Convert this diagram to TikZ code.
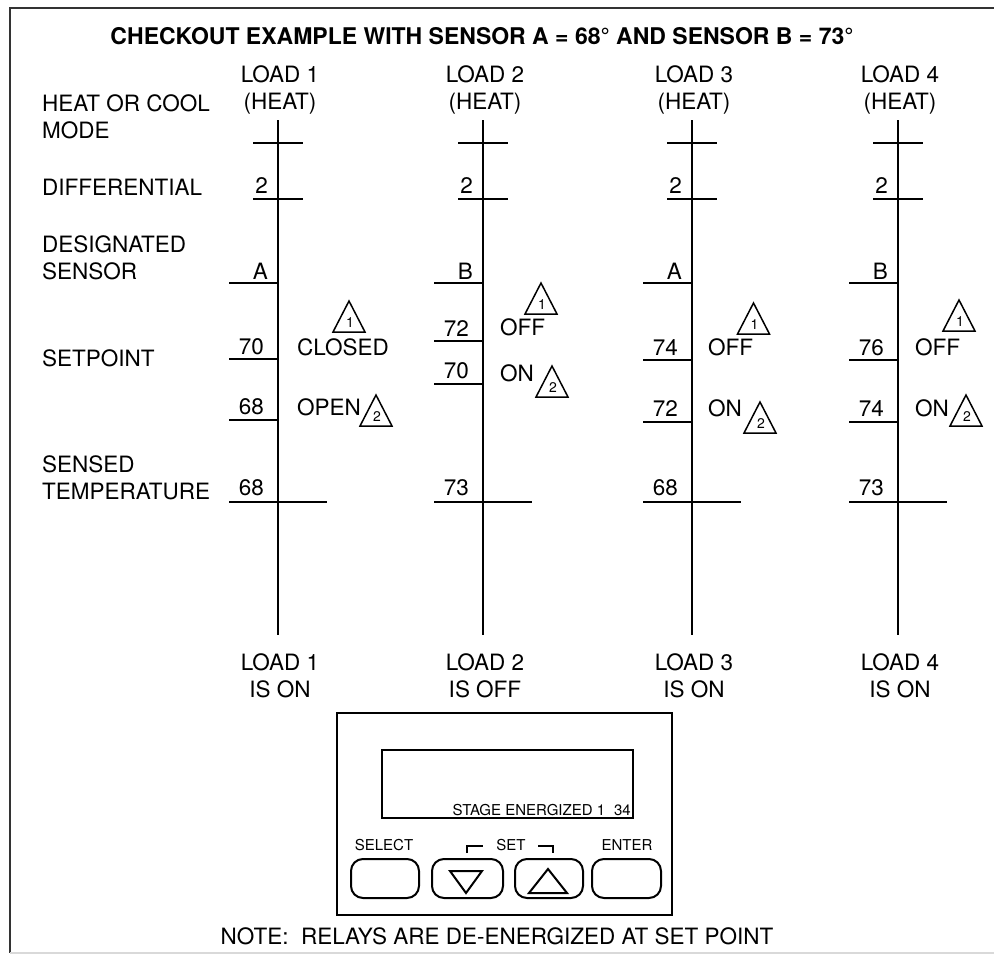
\documentclass[tikz,border=0pt]{standalone}
\usepackage{fontspec}
\setmainfont{TeX Gyre Heros}
\newcommand\warntri[4]{%
  \coordinate (#1a) at (#2,#3);
  \coordinate (#1l) at (#2-16,#3+31);
  \coordinate (#1r) at (#2+16,#3+31);
  \draw[warnline] (#1l) -- (#1a) -- (#1r) -- cycle;
  \node[font=\fontsize{14}{16}\selectfont, inner sep=0pt] (#1n) at (#2+1,#3+22) {#4};}
\begin{document}
\begin{tikzpicture}[x=1pt,y=-1pt,
  txt/.style={font=\fontsize{22.5}{27}\selectfont, inner sep=0pt, align=center},
  ltxt/.style={txt, align=left, anchor=west},
  ax/.style={line width=2.2pt},
  tk/.style={line width=2pt},
  warnline/.style={line width=1.5pt, line join=miter},
  small/.style={font=\fontsize{15}{18}\selectfont, inner sep=0pt},
  btn/.style={draw, line width=2pt, rounded corners=12pt, minimum height=39pt, inner sep=0pt},
]
\useasboundingbox (0,0) rectangle (994,956);
% border
\coordinate (c1) at (994,8); \coordinate (c2) at (10,8); \coordinate (c3) at (10,953); \coordinate (c4) at (994,953);
\draw[line width=2pt, black!80] (c1) -- (c2) -- (c3);
\draw[line width=1.5pt, black!15] (c3) -- (c4);
% title
\node[font=\fontsize{23}{27}\selectfont\bfseries, inner sep=0pt] (title) at (482,36)
  {CHECKOUT EXAMPLE WITH SENSOR A = 68° AND SENSOR B = 73°};
% row labels
\node[ltxt] (lmode) at (42,117) {HEAT OR COOL\\MODE};
\node[ltxt] (ldiff) at (42,187) {DIFFERENTIAL};
\node[ltxt] (lsens) at (42,258) {DESIGNATED\\SENSOR};
\node[ltxt] (lset) at (42,358) {SETPOINT};
\node[ltxt] (ltemp) at (42,478) {SENSED\\TEMPERATURE};
% columns
\foreach \i/\X/\st/\S/\T in {1/278/ON/A/68,2/483/OFF/B/73,3/692/ON/A/68,4/898/ON/B/73} {
  \coordinate (top\i) at (\X,120); \coordinate (bot\i) at (\X,635);
  \draw[ax] (top\i) -- (bot\i);
  \coordinate (mA\i) at (\X-25,143); \coordinate (mB\i) at (\X+25,143);
  \draw[tk] (mA\i) -- (mB\i);
  \coordinate (dA\i) at (\X-25,199); \coordinate (dB\i) at (\X+25,199);
  \draw[tk] (dA\i) -- (dB\i);
  \node[txt, anchor=east] (dv\i) at (\X-10,186) {2};
  \coordinate (sA\i) at (\X-49,283);
  \draw[tk] (sA\i) -- (\X,283);
  \node[txt, anchor=east] (sv\i) at (\X-10,271) {\S};
  \coordinate (tA\i) at (\X-49,502); \coordinate (tB\i) at (\X+49,502);
  \draw[tk] (tA\i) -- (tB\i);
  \node[txt, anchor=east] (tv\i) at (\X-14,488) {\T};
  \node[txt] (head\i) at (\X+2,90) {LOAD \i\\(HEAT)};
  \node[txt] (foot\i) at (\X+2,676) {LOAD \i\\IS \st};
}
% setpoints
\foreach \i/\X/\ya/\va/\yb/\vb in {1/278/359/70/420/68, 2/483/341/72/384/70, 3/692/360/74/422/72, 4/898/360/76/422/74} {
  \coordinate (pA\i) at (\X-49,\ya); \coordinate (qA\i) at (\X-49,\yb);
  \draw[tk] (pA\i) -- (\X,\ya);
  \draw[tk] (qA\i) -- (\X,\yb);
  \node[txt, anchor=east] (pv\i) at (\X-14,\ya-12) {\va};
  \node[txt, anchor=east] (qv\i) at (\X-14,\yb-13) {\vb};
}
% state labels
\node[ltxt] (st1a) at (297,347) {CLOSED};
\node[ltxt] (st1b) at (297,407) {OPEN};
\node[ltxt] (st2a) at (500,327) {OFF};
\node[ltxt] (st2b) at (500,373) {ON};
\node[ltxt] (st3a) at (708,347) {OFF};
\node[ltxt] (st3b) at (708,408) {ON};
\node[ltxt] (st4a) at (915,347) {OFF};
\node[ltxt] (st4b) at (915,408) {ON};
% warning triangles
\warntri{wa1}{349}{301}{1}
\warntri{wb1}{376}{395}{2}
\warntri{wa2}{541}{283}{1}
\warntri{wb2}{552}{366}{2}
\warntri{wa3}{753.5}{303}{1}
\warntri{wb3}{760}{402}{2}
\warntri{wa4}{959}{300}{1}
\warntri{wb4}{966}{395}{2}
% display panel
\node[draw, line width=2pt, minimum width=335pt, minimum height=202pt, inner sep=0pt] (panel) at (504.5,814) {};
\node[draw, line width=2pt, minimum width=251pt, minimum height=68pt, inner sep=0pt] (screen) at (507.5,784) {};
\node[small, anchor=south east] (stage) at (631,816) {STAGE ENERGIZED 1\hspace{9pt}34};
\node[small] (selL) at (384,845) {SELECT};
\node[small] (setL) at (511,845) {SET};
\node[small] (entL) at (627,845) {ENTER};
\coordinate (bl1) at (467,853); \coordinate (bl2) at (467,846); \coordinate (bl3) at (483,846);
\coordinate (br1) at (538,846); \coordinate (br2) at (553,846); \coordinate (br3) at (553,853);
\draw[line width=1.6pt] (bl1) -- (bl2) -- (bl3);
\draw[line width=1.6pt] (br1) -- (br2) -- (br3);
\node[btn, minimum width=68pt] (bsel) at (385,878.5) {};
\node[btn, minimum width=71pt] (bdn) at (467.5,878.5) {};
\node[btn, minimum width=68pt] (bup) at (549,878.5) {};
\node[btn, minimum width=69pt] (bent) at (626.5,878.5) {};
\coordinate (dn1) at (450,871); \coordinate (dn2) at (482,871); \coordinate (dn3) at (466,893);
\draw[line width=2pt, line join=miter] (dn1) -- (dn2) -- (dn3) -- cycle;
\coordinate (up1) at (529,893); \coordinate (up2) at (567,893); \coordinate (up3) at (548,869);
\draw[line width=2pt, line join=miter] (up1) -- (up2) -- (up3) -- cycle;
% note
\node[txt] (note) at (497,936) {NOTE:\ \ RELAYS ARE DE-ENERGIZED AT SET POINT};
\end{tikzpicture}
\end{document}
